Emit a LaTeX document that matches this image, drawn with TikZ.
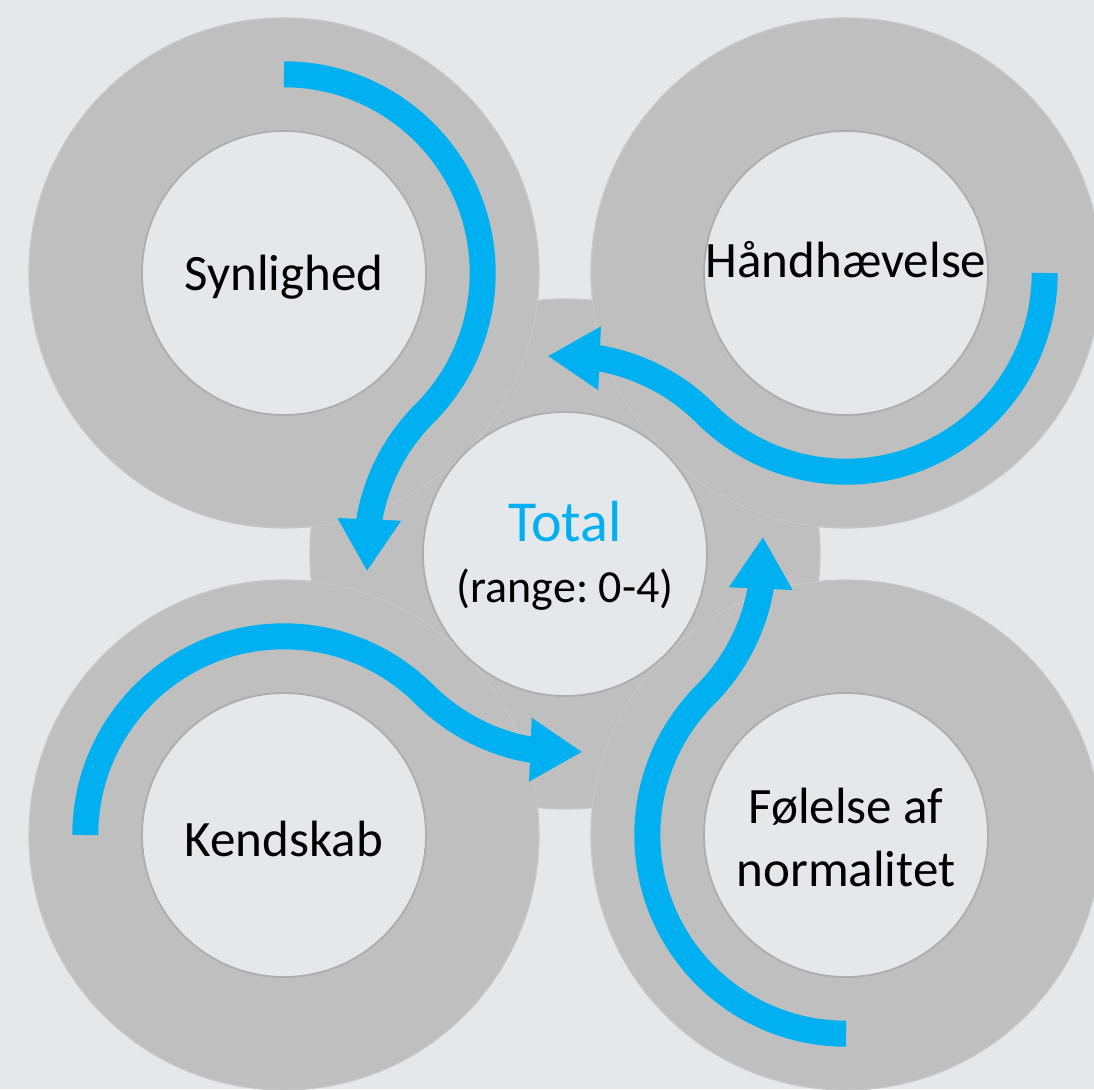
\documentclass[tikz,border=0pt]{standalone}
\usepackage{fontspec}
\setmainfont{Carlito}
\frenchspacing
\usetikzlibrary{arrows.meta,bending}

\definecolor{bgcol}{HTML}{E4E8EB}
\definecolor{ringgray}{HTML}{BFBFBF}
\definecolor{flowblue}{HTML}{00B0F0}

\tikzset{
  ring/.style={circle, fill=ringgray, draw=black!22, line width=1.2pt, minimum size=510pt, inner sep=0pt},
  hole/.style={circle, fill=bgcol, draw=black!32, line width=1.8pt, minimum size=284pt, inner sep=0pt},
  caption/.style={font=\fontsize{51}{63}\selectfont, align=center},
  flow/.style={draw=flowblue, line width=26pt, -{Triangle[width=60pt,length=52pt,flex]}}
}

\begin{document}
\begin{tikzpicture}[x=1pt,y=1pt]
  \fill[bgcol] (-565,-535) rectangle (529,554);
  \useasboundingbox (-565,-535) rectangle (529,554);
  \clip (-565,-535) rectangle (529,554);

  % rings
  \node[ring] (mid) at (0,0) {};
  \node[ring] (syn) at (-281,281) {};
  \node[ring] (hand) at (281,281) {};
  \node[ring] (kend) at (-281,-281) {};
  \node[ring] (fol) at (281,-281) {};
  \foreach \c in {mid,syn,hand,kend,fol}
    \node[hole] (\c hole) at (\c) {};

  % arrows
  \foreach \c/\a in {syn/135, hand/45, fol/-45, kend/-135}
    \draw[flow] (\c) ++(\a-45:198.7)
      arc[start angle=\a-45, end angle=\a-180, radius=198.7]
      arc[start angle=\a, end angle=\a+50, radius=198.7];

  % texts
  \node[caption] (syntext) at (-281,277) {Synlighed};
  \node[caption] (handtext) at (281,294) {Håndhævelse};
  \node[caption] (kendtext) at (-281,-285) {Kendskab};
  \node[caption] (foltext) at (281,-283) {Følelse af\\normalitet};
  \node[font=\fontsize{58}{70}\selectfont, text=flowblue] (totaltext) at (0,32) {Total};
  \node[font=\fontsize{46}{56}\selectfont] (rangetext) at (0,-36) {(range: 0-4)};
\end{tikzpicture}
\end{document}
